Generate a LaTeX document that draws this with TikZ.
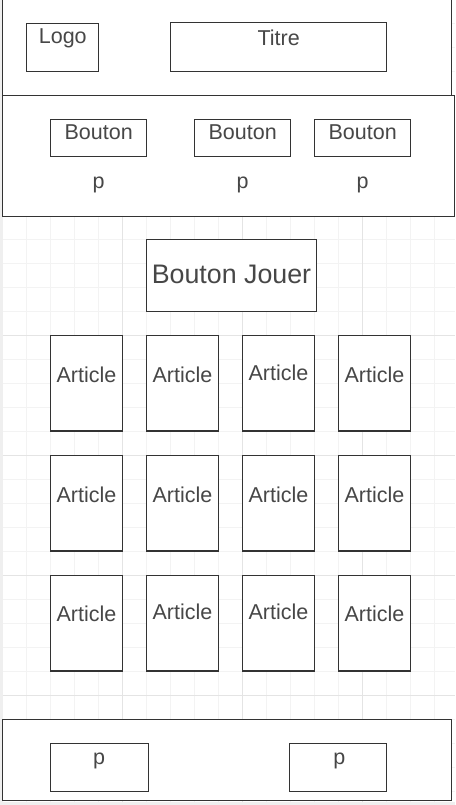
\documentclass[tikz,border=0pt]{standalone}
\usepackage{fontspec}
\setmainfont{Liberation Sans}
\definecolor{canvas}{HTML}{EFEFEF}
\definecolor{gridminor}{HTML}{F3F3F3}
\definecolor{gridmajor}{HTML}{E4E4E4}
\definecolor{stroke}{HTML}{333333}
\definecolor{ink}{HTML}{474747}
\begin{document}
\begin{tikzpicture}[x=1pt,y=-1pt,
  box/.style={draw=stroke, fill=white, line width=1.1pt, inner sep=0pt, outer sep=0pt, anchor=north west},
  lbl/.style={text=ink, inner sep=0pt, anchor=base, font=\fontsize{21.5}{24}\selectfont},
  biglbl/.style={lbl, font=\fontsize{26.8}{30}\selectfont},
  minorline/.style={draw=gridminor, line width=1pt},
  majorline/.style={draw=gridmajor, line width=1pt}]
\useasboundingbox (0,0) rectangle (455,805);
\clip (0,0) rectangle (455,805);
% canvas and page
\fill[canvas] (0,0) rectangle (455,805);
\fill[white] (2.7,0) rectangle (455,802);
% background grid
\foreach \i in {1,...,18} {
  \draw[minorline] (2.7+24*\i,0) -- (2.7+24*\i,802);
}
\foreach \i in {0,...,33} {
  \draw[minorline] (2.7,-0.3+24*\i) -- (455,-0.3+24*\i);
}
\foreach \i in {1,2,3} {
  \draw[majorline] (2.7+120*\i,0) -- (2.7+120*\i,802);
}
\foreach \i in {0,...,6} {
  \draw[majorline] (2.7,-24.3+120*\i) -- (455,-24.3+120*\i);
}
% header
\node[box, minimum width=449pt, minimum height=105.3pt] (header) at (2.7,-10) {};
\node[box, minimum width=72.4pt, minimum height=48pt] (logo) at (26.3,23.3) {};
\node[lbl] (logotxt) at (62.8,43.3) {Logo};
\node[box, minimum width=216.4pt, minimum height=49pt] (titre) at (170.3,22.3) {};
\node[lbl] (titretxt) at (278.6,45.5) {Titre};
% navigation
\node[box, minimum width=451.6pt, minimum height=121pt] (nav) at (2.7,95.3) {};
\foreach \n/\x in {1/50.3, 2/194.3, 3/314.3} {
  \node[box, minimum width=96.4pt, minimum height=37pt] (bouton\n) at (\x,119.3) {};
  \node[lbl] (boutontxt\n) at (\x+48.4,139.3) {Bouton};
  \node[lbl] (ptxt\n) at (\x+48.2,188.2) {p};
}
% play button
\node[box, minimum width=170.4pt, minimum height=72pt] (jouer) at (146.3,239.3) {};
\node[biglbl] (jouertxt) at (231.5,283.5) {Bouton Jouer};
% articles
\foreach \r/\y/\ba/\bb/\bc/\bd in {1/335.7/382.7/382.7/380.7/382.7,
                                   2/455.7/502.7/502.7/502.7/502.7,
                                   3/575.7/621.7/619.7/619.7/621.7} {
  \foreach \c/\x/\b in {1/50.3/\ba, 2/146.3/\bb, 3/242.3/\bc, 4/338.3/\bd} {
    \node[box, minimum width=72.4pt, minimum height=95.3pt] (article\r\c) at (\x,\y) {};
    \node[lbl] (articletxt\r\c) at (\x+36.2,\b) {Article};
  }
}
% footer
\node[box, minimum width=449pt, minimum height=81pt] (footer) at (2.7,719.3) {};
\node[box, minimum width=98.4pt, minimum height=48pt] (fp1) at (50.3,743.3) {};
\node[lbl] (fptxt1) at (99,764.2) {p};
\node[box, minimum width=97.4pt, minimum height=48pt] (fp2) at (289.3,743.3) {};
\node[lbl] (fptxt2) at (339.3,764.2) {p};
\end{tikzpicture}
\end{document}
